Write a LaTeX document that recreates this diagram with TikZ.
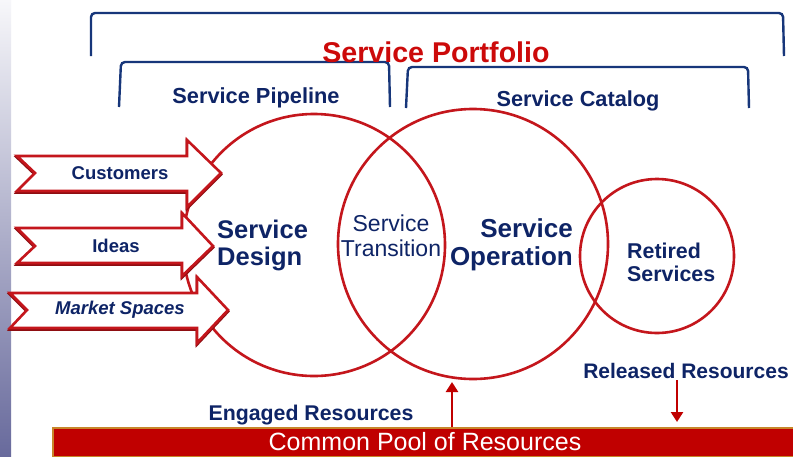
\documentclass[tikz,border=0pt]{standalone}
\usepackage{fontspec}
\setmainfont{Liberation Sans}
\usetikzlibrary{arrows.meta}
\definecolor{ringred}{HTML}{C4161C}
\definecolor{shadered}{HTML}{8E0E12}
\definecolor{navytext}{HTML}{0E2466}
\definecolor{navyline}{HTML}{17367A}
\definecolor{titlered}{HTML}{CC0A0A}
\definecolor{poolred}{HTML}{C00000}
\definecolor{poolrim}{HTML}{C8862A}
\definecolor{stripA}{RGB}{247,247,250}
\definecolor{stripB}{RGB}{178,178,204}
\definecolor{stripC}{RGB}{104,106,156}
\newcommand{\setfs}[2]{\fontsize{#1}{#2}\selectfont}
\tikzset{
  ring/.style={circle, draw=ringred, line width=2.6pt, inner sep=0pt},
  bracket/.style={draw=navyline, line width=2.4pt, rounded corners=4pt},
  inarrow/.style={draw=ringred, fill=white, line width=2.6pt, line join=miter},
  inshadow/.style={draw=shadered, line width=2.6pt, line join=miter},
  lbl/.style={text=navytext, inner sep=0pt, font=\bfseries\setfs{18.5}{20}},
  heavy/.style={text=navytext, inner sep=0pt, font=\bfseries\setfs{21.3}{23}},
  resarrow/.style={draw=poolred, line width=2.8pt, -{Triangle[length=10pt,width=12pt]}},
}
\begin{document}
\begin{tikzpicture}[x=1pt, y=-1pt]
\useasboundingbox (0,0) rectangle (793,456);
\fill[white] (0,0) rectangle (793,456);
% slate strip down the left edge
\shade[top color=stripA, middle color=stripB, bottom color=stripC]
  (0,0) rectangle (11,456);

% portfolio brackets
\draw[bracket] (91,56) -- (91,13) -- (783,13) -- (784,56);
\draw[bracket] (119,107) -- (121,62) -- (389,62) -- (390,107);
\draw[bracket] (406,108) -- (408,67) -- (748,67) -- (749,108);

\node[text=titlered, inner sep=0pt, font=\bfseries\setfs{28.6}{30}] (portfolio) at (436,52) {Service Portfolio};
\node[heavy, font=\bfseries\setfs{21.8}{23}] (pipeline) at (256,98) {Service Pipeline};
\node[heavy, font=\bfseries\setfs{21.7}{23}] (catalog) at (578,101) {Service Catalog};

% lifecycle rings
\node[ring, minimum size=262pt] (design) at (314,245) {};
\node[ring, minimum size=270pt] (operation) at (473,244) {};
\node[ring, minimum size=154pt] (retired) at (657,256) {};

% inputs feeding service design
\foreach \xl/\xn/\xh/\xt/\ya/\yb/\yc/\yd/\ym/\nm/\txt/\cx in {
  17/35/187/221/156/191/140/207/173/cust/Customers/120,
  17/35/182/213/228/263/213/276/246/ideas/Ideas/116,
  10/27/197/228/293/328/277/343/310/mkt/{\itshape Market Spaces}/120}{
  \draw[inshadow, yshift=-1.5pt] (\xl,\ya) -- (\xh,\ya) -- (\xh,\yc) -- (\xt,\ym) -- (\xh,\yd) -- (\xh,\yb) -- (\xl,\yb) -- (\xn,\ym) -- cycle;
  \draw[inarrow] (\xl,\ya) -- (\xh,\ya) -- (\xh,\yc) -- (\xt,\ym) -- (\xh,\yd) -- (\xh,\yb) -- (\xl,\yb) -- (\xn,\ym) -- cycle;
  \node[lbl] (\nm) at (\cx,\ym) {\txt};
}

\node[text=navytext, inner sep=0pt, anchor=west, align=left, font=\bfseries\setfs{25.5}{27}] (designlbl) at (217,245) {Service\\Design};
\node[text=navytext, inner sep=0pt, align=center, font=\setfs{23}{25}] (translbl) at (391,236) {Service\\Transition};
\node[text=navytext, inner sep=0pt, anchor=east, align=right, font=\bfseries\setfs{26}{28}] (operlbl) at (573,245) {Service\\Operation};
\node[text=navytext, inner sep=0pt, anchor=west, align=left, font=\bfseries\setfs{21.4}{23}] (retlbl) at (627,262) {Retired\\Services};

% shared resource pool
\node[draw=poolrim, fill=poolred, line width=1.8pt, inner sep=0pt, minimum width=752pt, minimum height=29pt, anchor=north west] (pool) at (52,427) {};
\node[text=white, inner sep=0pt, font=\setfs{25}{27}] (poollbl) at (425,442) {Common Pool of Resources};

\node[heavy] (engaged) at (311,415) {Engaged Resources};
\node[heavy, font=\bfseries\setfs{21}{23}] (released) at (686,371) {Released Resources};

\coordinate (engtip) at (452,382);
\coordinate (relfoot) at (677,380);
\coordinate (reltip) at (677,422);
\draw[resarrow] (engtip |- pool.north) -- (engtip);
\draw[resarrow] (relfoot) -- (reltip);
\end{tikzpicture}
\end{document}
